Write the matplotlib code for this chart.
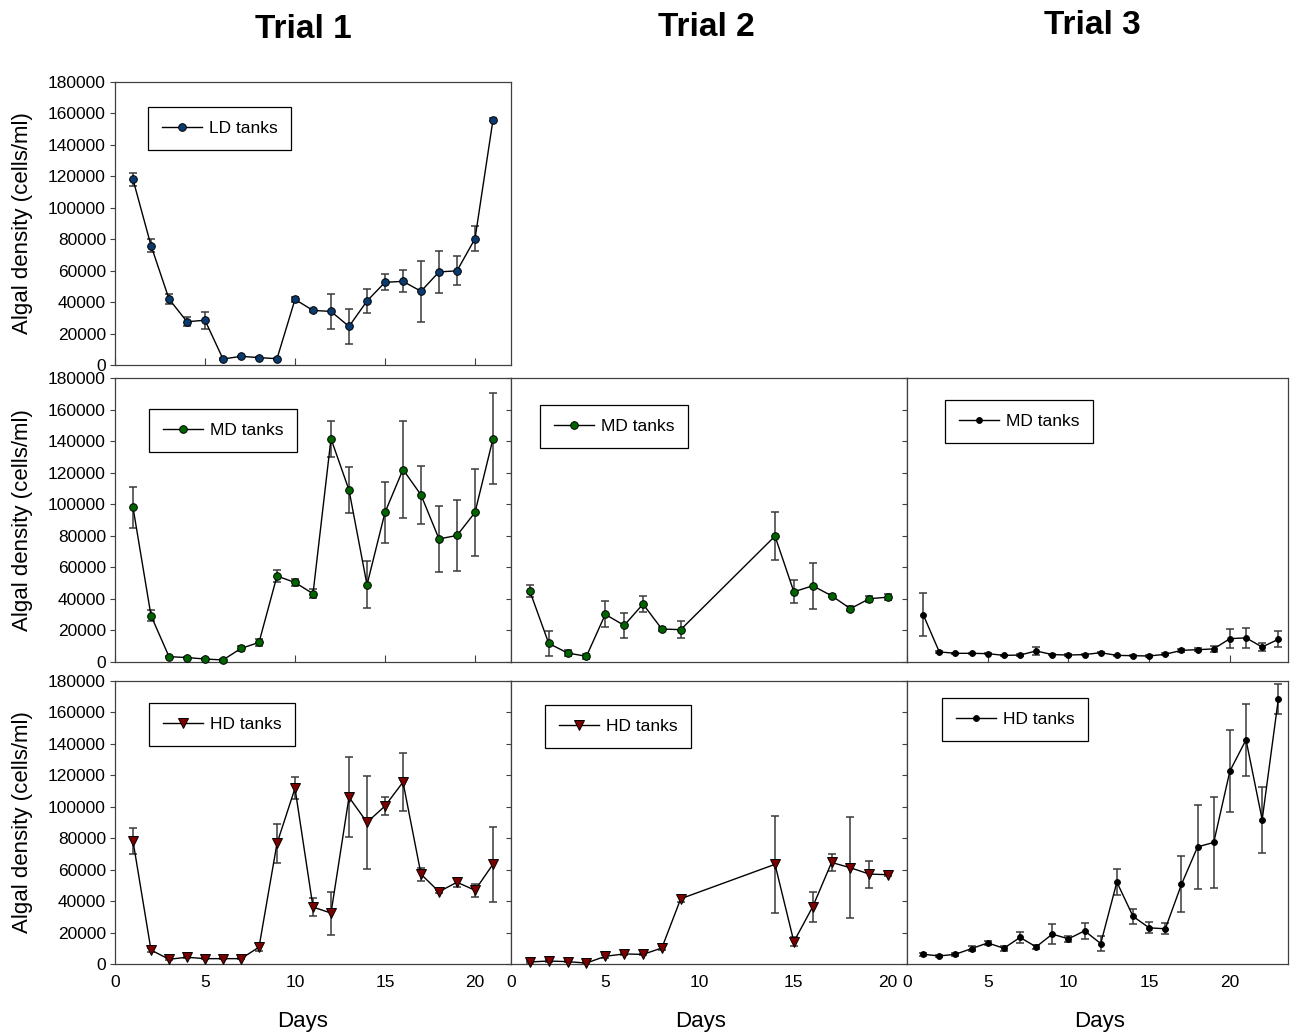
import matplotlib
matplotlib.use("Agg")
import matplotlib.pyplot as plt
from matplotlib.lines import Line2D

plt.rcParams['font.family'] = ['Liberation Sans', 'DejaVu Sans']

# ---- data -------------------------------------------------------------
days_t1 = list(range(1, 22))
ld_t1 = [118000, 76000, 42000, 27500, 28500, 3800, 5500, 4700, 4000, 41700, 34700,
         34100, 24500, 40700, 52600, 53200, 46900, 59200, 59900, 80300, 156000]
ld_t1_err = [4000, 4000, 3400, 3000, 5500, 500, 500, 500, 500, 1700, 1000,
             11300, 11400, 7700, 5100, 7000, 19500, 13400, 9200, 7900, 1000]

md_t1 = [98000, 29400, 3400, 2800, 1900, 1300, 8600, 12400, 54500, 50400, 43300,
         141500, 109000, 48900, 94800, 122000, 105900, 78000, 80200, 94800, 141500]
md_t1_err = [13000, 3500, 500, 500, 500, 500, 1500, 2000, 3500, 2500, 3000,
             11500, 14600, 14800, 19600, 30500, 18500, 20800, 22600, 27300, 29000]

hd_t1 = [78200, 8900, 3000, 4300, 3400, 3400, 3400, 10700, 76700, 111800, 36200,
         32400, 106100, 90100, 100500, 115700, 57100, 46000, 52000, 46900, 63500]
hd_t1_err = [8500, 1500, 500, 500, 500, 500, 500, 2500, 12400, 7000, 5600,
             13700, 25500, 29600, 5500, 18200, 4000, 1000, 3000, 4000, 23900]

days_t2 = [1, 2, 3, 4, 5, 6, 7, 8, 9, 14, 15, 16, 17, 18, 19, 20]
md_t2 = [44900, 11800, 5700, 3600, 30200, 23200, 36700, 20900, 20500,
         79800, 44500, 48300, 42000, 33800, 40100, 41100]
md_t2_err = [4000, 7700, 2000, 1500, 8200, 7700, 5200, 1500, 5200,
             15400, 7300, 14600, 1000, 1500, 2000, 2000]
hd_t2 = [1300, 1900, 1500, 600, 4900, 6400, 6100, 10200, 41500,
         63400, 14200, 36400, 64600, 61200, 57200, 56800]
hd_t2_err = [500, 500, 500, 500, 1000, 500, 500, 1500, 2000,
             31000, 3000, 9500, 5500, 32000, 8600, 1000]

days_t3 = list(range(1, 24))
md_t3 = [30100, 6400, 5500, 5500, 5300, 4200, 4400, 7000, 4700, 4400, 4700, 5900,
         4200, 4000, 3800, 4900, 7400, 7800, 8300, 14800, 15300, 9500, 14400]
md_t3_err = [13800, 500, 500, 500, 500, 500, 500, 2600, 500, 500, 500, 500,
             500, 500, 500, 500, 1000, 1000, 2000, 6000, 6500, 2500, 5000]
hd_t3 = [6200, 5100, 6200, 9800, 13400, 10000, 16900, 10900, 19000, 16000, 21100,
         13000, 52100, 30300, 23000, 22400, 50600, 74500, 77300, 122700, 142600,
         91800, 168400]
hd_t3_err = [1000, 500, 1000, 1500, 1000, 1500, 3500, 1500, 6500, 2000, 5000,
             4500, 8500, 5000, 3500, 3500, 17800, 26500, 29000, 26000, 22800,
             21000, 9500]

trial_titles = ["Trial 1", "Trial 2", "Trial 3"]
y_ticks = [0, 20000, 40000, 60000, 80000, 100000, 120000, 140000, 160000, 180000]
x_ticks = [0, 5, 10, 15, 20]

# ---- layout (pixels) ----------------------------------------------------
W, H = 1295, 1034
fig = plt.figure(figsize=(W / 100, H / 100), dpi=100)

cols = [(115, 511), (511, 907), (907, 1288)]
rows = [(82, 365), (378, 662), (681, 964)]
xmax = [22, 21, 23.6]


def make_ax(r, c):
    x0, x1 = cols[c]
    y0, y1 = rows[r]
    ax = fig.add_axes([x0 / W, 1 - y1 / H, (x1 - x0) / W, (y1 - y0) / H])
    ax.set_xlim(0, xmax[c])
    ax.set_ylim(0, 180000)
    ax.set_yticks(y_ticks)
    ax.set_xticks(x_ticks)
    for s in ax.spines.values():
        s.set_color('#404040')
        s.set_linewidth(0.9)
    ax.tick_params(axis='y', direction='out', length=3.5, width=0.8,
                   color='#404040', labelsize=12.5, pad=3)
    ax.tick_params(axis='x', direction='in', length=5, width=0.8,
                   color='#404040', labelsize=12.5, pad=8)
    if c == 0:
        ax.set_yticklabels([str(v) for v in y_ticks])
        ax.set_ylabel("Algal density (cells/ml)", fontsize=16)
        ax.yaxis.set_label_coords(-0.207, 0.5)
    else:
        ax.set_yticklabels([])
    if r == 2:
        ax.set_xticklabels([str(v) for v in x_ticks])
        ax.tick_params(axis='x', length=0)
    else:
        ax.set_xticklabels([])
    return ax


def draw(ax, days, vals, errs, marker, face, ms, label, leg_xy):
    ax.errorbar(days, vals, yerr=errs, fmt='none', ecolor='#3a3a3a',
                elinewidth=1.1, capsize=3, capthick=1.1, zorder=2)
    ax.plot(days, vals, color='black', lw=1.0, marker=marker, ms=ms,
            markerfacecolor=face, markeredgecolor='black', markeredgewidth=0.7,
            zorder=3, clip_on=False)
    handle = Line2D([], [], color='black', lw=1.0, marker=marker, ms=ms,
                    markerfacecolor=face, markeredgecolor='black',
                    markeredgewidth=0.7)
    lx, ly = leg_xy
    leg = ax.legend([handle], [label], loc='upper left',
                    bbox_to_anchor=(lx / W, 1 - ly / H),
                    bbox_transform=fig.transFigure, borderaxespad=0,
                    fontsize=12.5, frameon=True, fancybox=False,
                    handlelength=2.3, handletextpad=0.4, borderpad=0.8)
    fr = leg.get_frame()
    fr.set_edgecolor('black')
    fr.set_linewidth(0.9)
    fr.set_alpha(1)


LD_COLOR = '#0a3a6e'
MD_COLOR = '#006400'
HD_COLOR = '#7a0000'

ax = make_ax(0, 0)
draw(ax, days_t1, ld_t1, ld_t1_err, 'o', LD_COLOR, 5.5, "LD tanks", (148, 107))

ax = make_ax(1, 0)
draw(ax, days_t1, md_t1, md_t1_err, 'o', MD_COLOR, 5.5, "MD tanks", (149, 409))

ax = make_ax(2, 0)
draw(ax, days_t1, hd_t1, hd_t1_err, 'v', HD_COLOR, 6.5, "HD tanks", (149, 703))

ax = make_ax(1, 1)
ax.tick_params(axis='x', length=0)
draw(ax, days_t2, md_t2, md_t2_err, 'o', MD_COLOR, 5.5, "MD tanks", (540, 405))

ax = make_ax(2, 1)
draw(ax, days_t2, hd_t2, hd_t2_err, 'v', HD_COLOR, 6.5, "HD tanks", (545, 705))

ax = make_ax(1, 2)
draw(ax, days_t3, md_t3, md_t3_err, 'o', 'black', 4.2, "MD tanks", (945, 400))

ax = make_ax(2, 2)
draw(ax, days_t3, hd_t3, hd_t3_err, 'o', 'black', 4.2, "HD tanks", (942, 698))

# column titles and x-axis labels
for (x, y), t in zip([(303, 30), (706, 27), (1092, 25)], trial_titles):
    fig.text(x / W, 1 - y / H, t, ha='center', va='center',
             fontsize=24, fontweight='bold')
for x in [303, 701, 1100]:
    fig.text(x / W, 1 - 1021 / H, "Days", ha='center', va='center', fontsize=16)

fig.savefig("out.png", dpi=100)
